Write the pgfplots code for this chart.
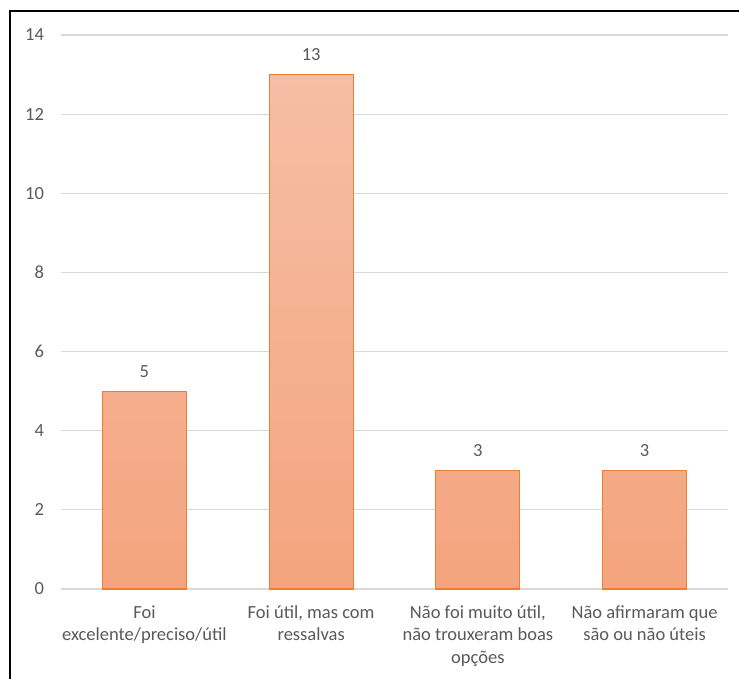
\documentclass[border=0pt]{standalone}
\usepackage{pgfplots}
\pgfplotsset{compat=1.18}
\usepackage{fontspec}
\setmainfont{Carlito}

\definecolor{txtgrey}{HTML}{595959}
\definecolor{gridgrey}{HTML}{D9D9D9}
\definecolor{barline}{HTML}{ED7D31}
\definecolor{bartop}{HTML}{F6BEA5}
\definecolor{barbot}{HTML}{F4A47E}

\begin{document}
\begin{tikzpicture}[x=1pt,y=1pt]
  \path[use as bounding box] (0,0) rectangle (739,678);
  % frame around the chart
  \draw[line width=2pt, black] (10,-2) -- (10,667) -- (739,667);
  \begin{axis}[
    at={(61pt,89pt)}, anchor=south west,
    scale only axis,
    width=667pt, height=554pt,
    xmin=-0.5, xmax=3.5,
    ymin=0, ymax=14,
    ytick={0,2,...,14},
    xtick={0,1,2,3},
    xticklabels={
      {Foi\\excelente/preciso/útil},
      {Foi útil, mas com\\ressalvas},
      {Não foi muito útil,\\não trouxeram boas\\opções},
      {Não afirmaram que\\são ou não úteis}},
    axis line style={draw=none},
    major tick length=0pt,
    ymajorgrids,
    grid style={gridgrey, line width=1.2pt},
    /pgf/number format/assume math mode=true,
    ticklabel style={font=\fontsize{18.5}{22.5}\selectfont, text=txtgrey},
    yticklabel style={xshift=-13.5pt},
    xticklabel style={align=center, anchor=north, yshift=-13pt},
    ybar, bar width=84pt,
    nodes near coords,
    every node near coord/.append style={font=\fontsize{18.5}{22.5}\selectfont, text=txtgrey, yshift=10pt},
  ]
    \addplot[draw=barline, line width=1.2pt, top color=bartop, bottom color=barbot]
      coordinates {(0,5) (1,13) (2,3) (3,3)};
  \end{axis}
\end{tikzpicture}
\end{document}
